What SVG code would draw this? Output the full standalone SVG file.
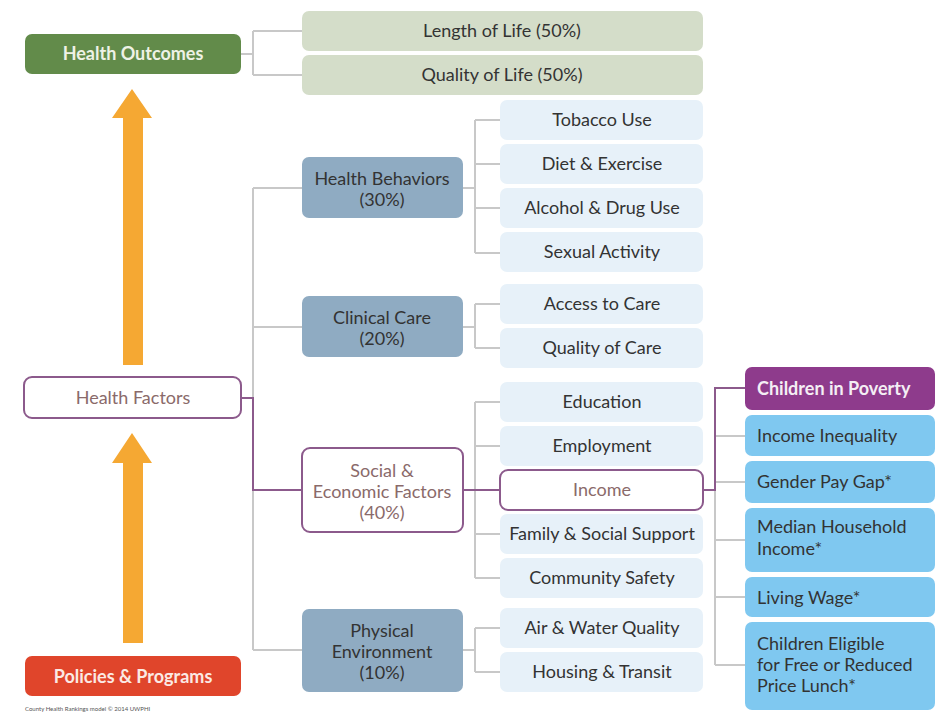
<svg xmlns="http://www.w3.org/2000/svg" width="941" height="714" viewBox="0 0 941 714">
<style>
text{font-family:Lato,"Liberation Sans",sans-serif;font-size:18px;text-anchor:middle;fill:#333}
.g{fill:#d4ddc9}
.lb{fill:#e7f1f9}
.bl{fill:#8fabc2}
.sky{fill:#7fc8f0}
.pw{fill:#fff;stroke:#8c5a8c;stroke-width:2}
.cg{fill:none;stroke:#c8c8c8;stroke-width:2}
.cp{fill:none;stroke:#8c5a8c;stroke-width:2}
.b{font-weight:bold}
.l{text-anchor:start}
.pt{fill:#8a6a6a}
</style>
<rect width="941" height="714" fill="#fff"/>
<g id="connectors">
<path class="cg" d="M241 54H253M253 31V75M253 31H302M253 75H302"/>
<path class="cg" d="M253 188V650M253 188H302M253 327H302M253 650H302"/>
<path class="cg" d="M463 188H475M475 120V253M475 120H500M475 164H500M475 208H500M475 253H500"/>
<path class="cg" d="M463 327H475M475 304V348M475 304H500M475 348H500"/>
<path class="cg" d="M475 402V578M475 402H500M475 446H500M475 534H500M475 578H500"/>
<path class="cg" d="M463 650H475M475 628V672M475 628H500M475 672H500"/>
<path class="cg" d="M715 490V665M715 436H745M715 482H745M715 540H745M715 597H745M715 665H745"/>
<path class="cp" d="M241 398H253V490H302"/>
<path class="cp" d="M463 490H500"/>
<path class="cp" d="M703 490H715V388H745"/>
</g>
<g id="arrows" fill="#f5a833">
<polygon points="123,365 143,365 143,118 152,118 132,89 112,118 123,118"/>
<polygon points="123,643 143,643 143,463 152,463 132,433 112,463 123,463"/>
</g>
<g id="health-outcomes"><rect x="25" y="34" width="216" height="40" rx="7" fill="#628b4a"/><text x="133" y="60" class="b" style="fill:#eef2e6">Health Outcomes</text></g>
<g id="length-of-life"><rect x="302" y="11" width="401" height="40" rx="7" class="g"/><text x="502" y="37">Length of Life (50%)</text></g>
<g id="quality-of-life"><rect x="302" y="55" width="401" height="40" rx="7" class="g"/><text x="502" y="81">Quality of Life (50%)</text></g>
<g id="health-behaviors"><rect x="302" y="157" width="161" height="61" rx="7" class="bl"/><text x="382" y="185">Health Behaviors</text><text x="382" y="206">(30%)</text></g>
<g id="tobacco"><rect x="500" y="100" width="203" height="40" rx="7" class="lb"/><text x="602" y="126">Tobacco Use</text></g>
<g id="diet"><rect x="500" y="144" width="203" height="40" rx="7" class="lb"/><text x="602" y="170">Diet &amp; Exercise</text></g>
<g id="alcohol"><rect x="500" y="188" width="203" height="40" rx="7" class="lb"/><text x="602" y="214">Alcohol &amp; Drug Use</text></g>
<g id="sexual"><rect x="500" y="232" width="203" height="40" rx="7" class="lb"/><text x="602" y="258">Sexual Activity</text></g>
<g id="clinical-care"><rect x="302" y="296" width="161" height="61" rx="7" class="bl"/><text x="382" y="324">Clinical Care</text><text x="382" y="345">(20%)</text></g>
<g id="access"><rect x="500" y="284" width="203" height="40" rx="7" class="lb"/><text x="602" y="310">Access to Care</text></g>
<g id="quality-care"><rect x="500" y="328" width="203" height="40" rx="7" class="lb"/><text x="602" y="354">Quality of Care</text></g>
<g id="health-factors"><rect x="24" y="377" width="217" height="41" rx="8" class="pw"/><text x="133" y="404" class="pt">Health Factors</text></g>
<g id="social"><rect x="302" y="448" width="161" height="84" rx="8" class="pw"/><text x="382" y="477" class="pt">Social &amp;</text><text x="382" y="498" class="pt">Economic Factors</text><text x="382" y="519" class="pt">(40%)</text></g>
<g id="education"><rect x="500" y="382" width="203" height="40" rx="7" class="lb"/><text x="602" y="408">Education</text></g>
<g id="employment"><rect x="500" y="426" width="203" height="40" rx="7" class="lb"/><text x="602" y="452">Employment</text></g>
<g id="income"><rect x="500" y="470" width="203" height="40" rx="8" class="pw"/><text x="602" y="496" class="pt">Income</text></g>
<g id="family"><rect x="500" y="514" width="203" height="40" rx="7" class="lb"/><text x="602" y="540">Family &amp; Social Support</text></g>
<g id="community"><rect x="500" y="558" width="203" height="40" rx="7" class="lb"/><text x="602" y="584">Community Safety</text></g>
<g id="physical"><rect x="302" y="609" width="161" height="83" rx="7" class="bl"/><text x="382" y="637">Physical</text><text x="382" y="658">Environment</text><text x="382" y="679">(10%)</text></g>
<g id="air"><rect x="500" y="608" width="203" height="40" rx="7" class="lb"/><text x="602" y="634">Air &amp; Water Quality</text></g>
<g id="housing"><rect x="500" y="652" width="203" height="40" rx="7" class="lb"/><text x="602" y="678">Housing &amp; Transit</text></g>
<g id="children-poverty"><rect x="745" y="367" width="190" height="43" rx="7" fill="#8e3b8c"/><text x="757" y="395" class="l b" style="fill:#f4eef4">Children in Poverty</text></g>
<g id="income-inequality"><rect x="745" y="415" width="190" height="41" rx="7" class="sky"/><text x="757" y="442" class="l">Income Inequality</text></g>
<g id="gender-pay"><rect x="745" y="461" width="190" height="42" rx="7" class="sky"/><text x="757" y="488" class="l">Gender Pay Gap*</text></g>
<g id="median"><rect x="745" y="508" width="190" height="64" rx="7" class="sky"/><text x="757" y="533" class="l">Median Household</text><text x="757" y="555" class="l">Income*</text></g>
<g id="living-wage"><rect x="745" y="577" width="190" height="40" rx="7" class="sky"/><text x="757" y="604" class="l">Living Wage*</text></g>
<g id="children-eligible"><rect x="745" y="622" width="190" height="88" rx="7" class="sky"/><text x="757" y="650" class="l">Children Eligible</text><text x="757" y="671" class="l">for Free or Reduced</text><text x="757" y="692" class="l">Price Lunch*</text></g>
<g id="policies"><rect x="25" y="656" width="216" height="40" rx="7" fill="#e0452b"/><text x="133" y="683" class="b" style="fill:#fbe9e4">Policies &amp; Programs</text></g>
<text x="25" y="711" class="l" style="font-size:6px;fill:#555">County Health Rankings model © 2014 UWPHI</text>
</svg>
